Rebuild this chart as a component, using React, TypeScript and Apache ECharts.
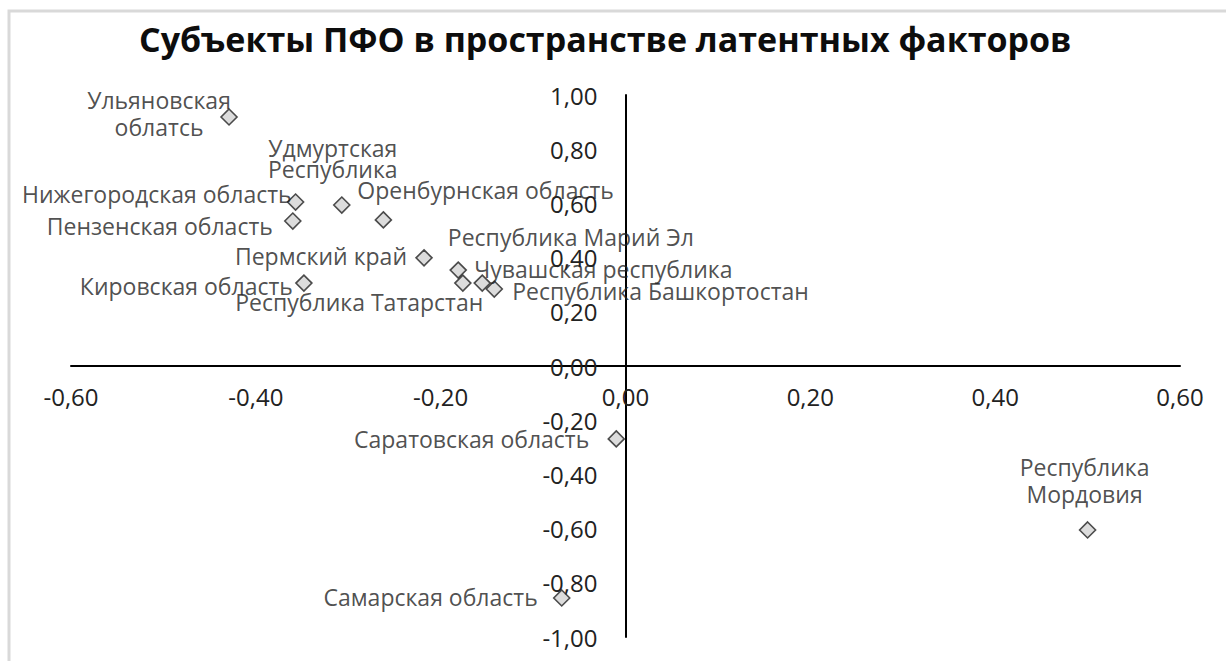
import React, { useEffect, useRef } from "react";
import * as echarts from "echarts";

const titleText = "Субъекты ПФО в пространстве латентных факторов";

const regions = [
  "Ульяновская\nоблатсь",
  "Удмуртская\nРеспублика",
  "Нижегородская область",
  "Оренбурнская область",
  "Пензенская область",
  "Пермский край",
  "Чувашская республика",
  "Республика Марий Эл",
  "Республика Татарстан",
  "Республика Башкортостан",
  "Кировская область",
  "Саратовская область",
  "Республика\nМордовия",
  "Самарская область",
];

const factor1 = [-0.429, -0.307, -0.357, -0.262, -0.36, -0.218, -0.181, -0.176, -0.155, -0.142, -0.348, -0.01, 0.5, -0.069];
const factor2 = [0.919, 0.594, 0.605, 0.539, 0.535, 0.399, 0.354, 0.306, 0.306, 0.284, 0.306, -0.269, -0.605, -0.856];

const xTicks = { min: -0.6, max: 0.6, step: 0.2 };
const yTicks = { min: -1, max: 1, step: 0.2 };

// label anchor: [align, dx, dy, lineHeight]
const labelPlacement: [string, number, number, number][] = [
  ["center", -70, -3, 27],
  ["center", -9, -47, 21],
  ["right", -4, -8, 26],
  ["left", -26, -30, 26],
  ["right", -20, 5, 26],
  ["right", -17, -2, 26],
  ["left", 16, -1, 26],
  ["left", -15, -46, 26],
  ["right", 1, 19, 26],
  ["left", 18, 2, 26],
  ["right", -11, 3, 26],
  ["right", -27, 0, 26],
  ["center", -3, -49, 27],
  ["right", -24, -1, 26],
];

const fmt = (v: number) => v.toFixed(2).replace(".", ",");
const FONT = "'Open Sans', 'Noto Sans', sans-serif";

const W = 1226;
const H = 661;
const G = { left: 71, right: 46, top: 95, bottom: 24 };

export default function App() {
  const ref = useRef<HTMLDivElement>(null);
  useEffect(() => {
    if (!ref.current) return;
    const chart = echarts.init(ref.current, undefined, { renderer: "svg" });
    const plotW = W - G.left - G.right;
    const plotH = H - G.top - G.bottom;
    const zeroX = G.left + ((0 - xTicks.min) / (xTicks.max - xTicks.min)) * plotW;
    const zeroY = G.top + ((yTicks.max - 0) / (yTicks.max - yTicks.min)) * plotH;
    const yAxisOffset = -(zeroX - G.left);
    const xAxisOffset = -(G.top + plotH - zeroY);

    const data = regions.map((name, i) => {
      const [align, dx, dy, lh] = labelPlacement[i];
      return {
        name,
        value: [factor1[i], factor2[i]],
        label: {
          show: true,
          position: "inside",
          align,
          verticalAlign: "middle",
          offset: [dx, dy],
          lineHeight: lh,
        },
      };
    });
    chart.setOption({
      animation: false,
      backgroundColor: "#ffffff",
      title: {
        text: titleText,
        left: 134,
        top: 17,
        textStyle: {
          fontFamily: FONT,
          fontWeight: "bold",
          fontSize: 34,
          color: "#0d0d0d",
        },
      },
      graphic: [
        {
          type: "rect",
          shape: { x: 9, y: 11, width: 1240, height: 700 },
          style: { fill: "none", stroke: "#d9d9d9", lineWidth: 3 },
          silent: true,
        },
      ],
      grid: {
        left: G.left,
        right: G.right,
        top: G.top,
        bottom: G.bottom,
        outerBoundsMode: "none",
      },
      xAxis: {
        type: "value",
        position: "bottom",
        offset: xAxisOffset,
        min: xTicks.min,
        max: xTicks.max,
        interval: xTicks.step,
        axisLine: { show: true, onZero: false, lineStyle: { color: "#000", width: 2 } },
        axisTick: { show: false },
        splitLine: { show: false },
        axisLabel: {
          margin: 18,
          fontFamily: FONT,
          fontSize: 24,
          color: "#222222",
          formatter: fmt,
          showMinLabel: true,
          showMaxLabel: true,
        },
      },
      yAxis: {
        type: "value",
        position: "left",
        offset: yAxisOffset,
        min: yTicks.min,
        max: yTicks.max,
        interval: yTicks.step,
        axisLine: { show: true, onZero: false, lineStyle: { color: "#000", width: 2 } },
        axisTick: { show: false },
        splitLine: { show: false },
        axisLabel: {
          margin: 28,
          fontFamily: FONT,
          fontSize: 24,
          color: "#222222",
          formatter: fmt,
          showMinLabel: true,
          showMaxLabel: true,
        },
      },
      series: [
        {
          type: "scatter",
          symbol: "diamond",
          symbolSize: 16,
          itemStyle: { color: "#d3d3d3", borderColor: "#222222", borderWidth: 1.6 },
          label: {
            show: true,
            formatter: (p: any) => p.name,
            fontFamily: FONT,
            fontSize: 23,
            color: "#222222",
          },
          data,
        },
      ],
    });
    return () => chart.dispose();
  }, []);
  return (
    <div
      ref={ref}
      style={{ position: "fixed", left: 0, top: 0, width: W, height: H }}
    />
  );
}
